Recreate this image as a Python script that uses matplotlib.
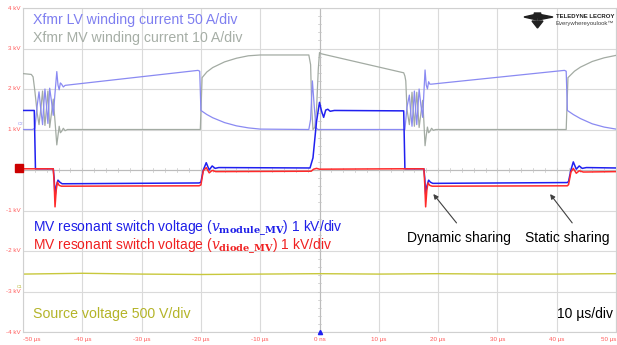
import matplotlib
matplotlib.use("Agg")
import matplotlib.pyplot as plt
from matplotlib.patches import Polygon, Rectangle

plt.rcParams['font.family'] = ['Liberation Sans', 'DejaVu Sans']
plt.rcParams['mathtext.fontset'] = 'dejavuserif'

# --- waveforms (time in us, value in divisions, 1 div = "1 kV" on the grid) ---
# LV winding current (light blue)
lv_t = [-50, -48.4, -48.0, -47.6, -47.3, -47.0, -46.7, -46.5, -46.3, -46.05, -45.8, -45.65, -45.5,
        -45.2, -44.9, -44.6, -44.3, -44.1, -43.9, -43.7, -43.5, -43.2, -42.9, -20.5, -20.2, -20.0,
        -19.0, -18.0, -16.0, -14.0, -12.0, -10.0, -1.8, -1.5, -1.2, -0.9, -0.6, -0.3, 0.5, 14.4,
        14.75, 15.15, 15.4, 15.6, 15.8, 16.0, 16.2, 16.4, 16.6, 16.8, 17.1, 17.4, 17.6, 17.8, 18.0,
        18.2, 18.4, 18.6, 18.9, 41.3, 41.6, 41.8, 42.8, 44.0, 46.0, 48.0, 50.0]
lv_v = [1.0, 1.0, 1.03, 1.6, 1.93, 1.5, 1.12, 1.6, 2.0, 1.6, 1.15, 1.6, 2.02,
        1.7, 1.35, 1.9, 2.43, 2.1, 1.98, 2.15, 2.12, 2.05, 2.09, 2.46, 2.44, 1.47,
        1.37, 1.29, 1.17, 1.09, 1.04, 1.01, 1.0, 1.25, 2.2, 1.6, 1.05, 1.0, 1.0, 1.0,
        1.55, 1.85, 1.4, 1.08, 1.5, 1.95, 1.5, 1.12, 1.55, 2.0, 1.6, 1.3, 1.9, 2.47, 2.1,
        2.0, 2.18, 2.12, 2.12, 2.46, 2.44, 1.47, 1.37, 1.27, 1.14, 1.06, 1.01]

# MV winding current (grey)
mv_t = [-50, -48.6, -48.3, -48.0, -47.6, -47.3, -47.0, -46.7, -46.5, -46.3, -46.05, -45.8, -45.65,
        -45.5, -45.2, -44.9, -44.6, -44.3, -44.1, -43.9, -43.7, -43.5, -43.2, -42.9, -42.5, -20.1,
        -19.8, -19.0, -18.0, -16.0, -14.0, -12.0, -10.0, -1.8, -1.5, -1.3, -1.1, -0.8, -0.5, -0.2,
        0.0, 0.3, 14.2, 14.4, 14.55, 14.75, 15.15, 15.4, 15.6, 15.8, 16.0, 16.2, 16.4, 16.6, 16.8,
        17.1, 17.4, 17.6, 17.8, 18.0, 18.2, 18.4, 18.6, 18.9, 19.2, 19.6, 41.6, 41.9, 43.0, 44.0,
        46.0, 48.0, 50.0]
mv_v = [2.38, 2.36, 2.3, 1.95, 1.4, 1.12, 1.5, 1.95, 1.5, 1.1, 1.5, 1.95, 1.5,
        1.05, 1.4, 1.75, 1.2, 0.62, 0.85, 1.08, 0.92, 0.95, 1.03, 0.97, 1.0, 1.0,
        2.28, 2.42, 2.53, 2.67, 2.76, 2.82, 2.84, 2.84, 2.6, 1.5, 1.0, 1.05, 1.5, 2.5,
        2.9, 2.87, 2.40, 2.32, 2.2, 1.5, 1.12, 1.5, 1.92, 1.5, 1.08, 1.5, 1.92, 1.5, 1.05,
        1.4, 1.72, 1.2, 0.6, 0.85, 1.06, 0.92, 0.95, 1.03, 0.98, 1.0, 1.0, 2.28, 2.44, 2.54,
        2.68, 2.77, 2.83]

# MV resonant switch voltage, module (blue)
mod_t = [-50, -48.1, -47.9, -44.9, -44.75, -44.6, -44.4, -44.1, -43.8, -43.4, -20.3, -20.0, -19.6,
         -19.1, -18.6, -18.1, -17.6, -17.0, -1.6, -1.1, -0.5, 0.0, 0.35, 0.7, 1.05, 1.4, 1.8, 2.5,
         14.2, 14.4, 17.6, 17.75, 17.9, 18.1, 18.4, 18.7, 19.1, 41.8, 42.0, 42.4, 42.8, 43.3, 43.8,
         44.3, 45.0, 50.0]
mod_v = [1.47, 1.47, 0.03, 0.03, -0.2, -0.67, -0.4, -0.25, -0.3, -0.34, -0.32, -0.3, 0.0,
         0.18, 0.0, 0.1, 0.04, 0.06, 0.05, 0.3, 1.2, 1.67, 1.45, 1.3, 1.48, 1.5, 1.45, 1.47,
         1.46, 0.03, 0.03, -0.2, -0.6, -0.4, -0.25, -0.3, -0.33, -0.31, -0.28, 0.0, 0.2, 0.02, 0.1,
         0.04, 0.06, 0.05]

# MV resonant switch voltage, diode (red)
dio_t = [-50, -44.9, -44.75, -44.6, -44.4, -44.2, -43.9, -43.5, -20.3, -20.0, -19.6, -19.1, -18.6,
         -18.1, -17.5, -1.4, -1.0, -0.5, 0.0, 14.0, 17.6, 17.75, 17.9, 18.1, 18.3, 18.6, 19.0,
         41.8, 42.0, 42.4, 42.8, 43.3, 43.8, 44.5, 50.0]
dio_v = [0.03, 0.03, -0.3, -0.91, -0.5, -0.3, -0.38, -0.4, -0.39, -0.37, -0.02, 0.06, -0.07,
         -0.01, -0.04, -0.03, 0.02, 0.04, 0.02, 0.03, 0.03, -0.35, -0.91, -0.5, -0.32, -0.38, -0.4,
         -0.39, -0.36, -0.05, 0.04, -0.08, -0.02, -0.05, -0.04]

# source voltage (yellow)
src_t = [-50, -40, -30, -20, -10, 0, 10, 20, 30, 40, 50]
src_v = [-2.57, -2.55, -2.57, -2.58, -2.57, -2.56, -2.57, -2.56, -2.57, -2.57, -2.56]

x_ticks = [-50, -40, -30, -20, -10, 0, 10, 20, 30, 40, 50]
x_labels = ['-50 µs', '-40 µs', '-30 µs', '-20 µs', '-10 µs', '0 ns', '10 µs', '20 µs', '30 µs', '40 µs', '50 µs']
y_ticks = [4, 3, 2, 1, 0, -1, -2, -3, -4]
y_labels = ['4 kV', '3 kV', '2 kV', '1 kV', '0', '-1 kV', '-2 kV', '-3 kV', '-4 kV']

W, H = 617, 345
fig = plt.figure(figsize=(W / 100, H / 100), dpi=100)
ax = fig.add_axes([23 / W, 1 - 332 / H, 593 / W, 324 / H])
ax.set_xlim(-50, 50)
ax.set_ylim(-4, 4)

# graticule
for xv in x_ticks:
    ax.axvline(xv, color='#dadada', lw=0.8, zorder=0)
for yv in y_ticks:
    ax.axhline(yv, color='#dadada', lw=0.8, zorder=0)
ax.axvline(0, color='#bcbcbc', lw=0.8, zorder=0)
ax.axhline(0, color='#bcbcbc', lw=0.8, zorder=0)
for xv in range(-50, 51, 2):
    ax.plot([xv, xv], [-0.04, 0.04], color='#c4c4c4', lw=0.5, zorder=0)
for i in range(-20, 21):
    ax.plot([-0.25, 0.25], [i * 0.2, i * 0.2], color='#c4c4c4', lw=0.5, zorder=0)
for s in ax.spines.values():
    s.set_color('#d0d0d0')
    s.set_linewidth(0.8)

ax.set_xticks([])
ax.set_yticks([])
tick_red = '#ff5a5a'
for xv, lab in zip(x_ticks, x_labels):
    ha = 'left' if xv == -50 else ('right' if xv == 50 else 'center')
    ax.text(xv, -4.12, lab, color=tick_red, fontsize=4.5, ha=ha, va='top')
for yv, lab in zip(y_ticks, y_labels):
    ax.text(-50.4, yv, lab, color=tick_red, fontsize=4.5, ha='right', va='center', clip_on=False)

# traces
ax.plot(src_t, src_v, color='#c8c83c', lw=1.0, zorder=2)
ax.plot(mv_t, mv_v, color='#a3aba3', lw=0.9, zorder=3)
ax.plot(lv_t, lv_v, color='#8a8af2', lw=0.9, zorder=3)
ax.plot(mod_t, mod_v, color='#2020f0', lw=1.1, zorder=4)
ax.plot(dio_t, dio_v, color='#ff2a2a', lw=1.1, zorder=5)

# labels
ax.text(-48.3, 3.70, 'Xfmr LV winding current 50 A/div', color='#7f7ff0', fontsize=10.2, va='center')
ax.text(-48.3, 3.26, 'Xfmr MV winding current 10 A/div', color='#a6aea6', fontsize=10.2, va='center')
ax.text(-48.3, -1.43, r'MV resonant switch voltage ($\mathit{v}_{\mathbf{module\_MV}}$) 1 kV/div',
        color='#1e1ee8', fontsize=10, va='center')
ax.text(-48.3, -1.88, r'MV resonant switch voltage ($\mathit{v}_{\mathbf{diode\_MV}}$) 1 kV/div',
        color='#f02020', fontsize=10, va='center')
ax.text(-48.3, -3.56, 'Source voltage 500 V/div', color='#b4b428', fontsize=10.2, va='center')
ax.text(49.5, -3.56, '10 µs/div', color='black', fontsize=10, va='center', ha='right')
ax.text(14.8, -1.68, 'Dynamic sharing', color='black', fontsize=10, va='center')
ax.text(34.7, -1.68, 'Static sharing', color='black', fontsize=10, va='center')
arrow = dict(arrowstyle='-|>', color='#404040', lw=0.8, mutation_scale=7)
ax.annotate('', xy=(18.9, -0.54), xytext=(23.4, -1.36), arrowprops=arrow)
ax.annotate('', xy=(38.6, -0.54), xytext=(42.9, -1.36), arrowprops=arrow)

# trigger marker
ax.plot([0], [-4], marker='^', color='#2020f0', ms=3, clip_on=False, zorder=6)


def px(x, y):
    return (x / W, 1 - y / H)


# channel markers
fig.patches.append(Rectangle(px(15, 172), 8 / W, 8 / H, transform=fig.transFigure,
                             color='#cc0000', zorder=7))
fig.text(*px(20, 124), 'C2', fontsize=3.2, color='#8a8af2', ha='center', va='center')
fig.text(*px(20, 287), 'C1', fontsize=3.2, color='#b4b428', ha='center', va='center')

# logo
for pts in ([(524, 17), (537, 14), (537, 20)], [(553, 17), (538, 14), (538, 20)],
            [(532, 21), (543, 21), (537.5, 28)], [(534, 13), (541, 13), (537.5, 18)]):
    fig.patches.append(Polygon([px(*p) for p in pts], closed=True, transform=fig.transFigure,
                               color='#202020', zorder=7))
fig.text(*px(556, 16), 'TELEDYNE LECROY', fontsize=4.3, color='#202020', fontweight='bold', va='center')
fig.text(*px(556, 23), 'Everywhereyoulook™', fontsize=4.3, color='#404040', va='center')

fig.savefig('out.png', dpi=100)
